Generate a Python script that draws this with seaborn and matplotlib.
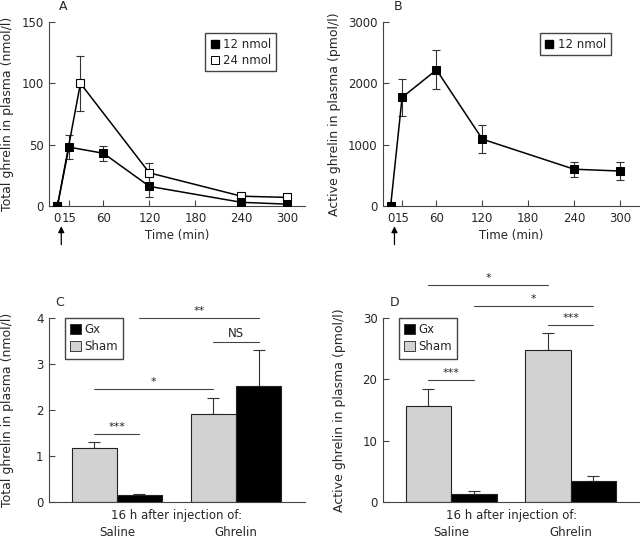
import numpy as np
import pandas as pd
import matplotlib
matplotlib.use("Agg")
import matplotlib.pyplot as plt
import seaborn as sns
from matplotlib.lines import Line2D
from matplotlib.patches import Patch

# Panel A: total ghrelin time course
time_a12 = [0, 15, 60, 120, 240, 300]
total_12 = [0, 48, 43, 16, 3, 1.5]
total_12_err = [0, 9.5, 6, 8.5, 1.5, 1]
time_a24 = [0, 30, 120, 240, 300]
total_24 = [0, 100, 27, 8, 7]
total_24_err = [0, 22.5, 8, 1.2, 1]

# Panel B: active ghrelin time course
time_b = [0, 15, 60, 120, 240, 300]
active_12 = [0, 1770, 2220, 1090, 600, 570]
active_12_err = [0, 300, 320, 230, 120, 145]

time_ticks = [0, 15, 60, 120, 180, 240, 300]

# Panels C/D: 16 h after injection
treatments = ["Saline", "Ghrelin"]
total_sham = [1.17, 1.91]
total_sham_err = [0.13, 0.36]
total_gx = [0.16, 2.53]
total_gx_err = [0.02, 0.78]
active_sham = [15.66, 24.8]
active_sham_err = [2.75, 2.8]
active_gx = [1.3, 3.5]
active_gx_err = [0.5, 0.7]

# significance brackets: (from bar, to bar, height, label)
sig_c = [(("Saline", "Sham"), ("Saline", "Gx"), 1.48, "***"),
         (("Saline", "Sham"), ("Ghrelin", "Sham"), 2.45, "*"),
         (("Ghrelin", "Sham"), ("Ghrelin", "Gx"), 3.48, "NS"),
         (("Saline", "Gx"), ("Ghrelin", "Gx"), 4.0, "**")]
sig_d = [(("Saline", "Sham"), ("Saline", "Gx"), 19.9, "***"),
         (("Saline", "Sham"), ("Ghrelin", "Sham"), 35.3, "*"),
         (("Saline", "Gx"), ("Ghrelin", "Gx"), 32.0, "*"),
         (("Ghrelin", "Sham"), ("Ghrelin", "Gx"), 28.9, "***")]

sns.set_style("ticks")
plt.rcParams['font.family'] = ['DejaVu Sans']
plt.rcParams['font.size'] = 8.5
plt.rcParams['axes.edgecolor'] = '#444444'
plt.rcParams['axes.linewidth'] = 0.8

GRAY = '#d2d2d2'
W, H = 640, 539
fig = plt.figure(figsize=(W / 100, H / 100), dpi=100)


def px_axes(left, right, top, bottom):
    return fig.add_axes([left / W, 1 - bottom / H, (right - left) / W, (bottom - top) / H])


def style_axes(ax):
    sns.despine(ax=ax)
    ax.tick_params(direction='in', length=4, width=0.8, color='#444444', labelsize=8.5, pad=4)


axA = px_axes(49, 305, 22, 206)
axB = px_axes(383, 639, 22, 206)
axC = px_axes(49, 305, 318, 502)
axD = px_axes(383, 640, 318, 502)

# ---- A ----
axA.errorbar(time_a12, total_12, yerr=total_12_err, fmt='none', ecolor='#333333',
             elinewidth=0.8, capsize=3, capthick=0.8, zorder=2)
axA.errorbar(time_a24, total_24, yerr=total_24_err, fmt='none', ecolor='#333333',
             elinewidth=0.8, capsize=3, capthick=0.8, zorder=2)
sns.lineplot(x=time_a24, y=total_24, ax=axA, color='black', lw=1.1, marker='s', ms=6,
             mfc='white', mec='black', mew=0.8, zorder=3)
sns.lineplot(x=time_a12, y=total_12, ax=axA, color='black', lw=1.1, marker='s', ms=6,
             mfc='black', mec='black', zorder=4)
axA.set_xlim(-11, 323)
axA.set_ylim(0, 150)
axA.set_yticks([0, 50, 100, 150])
axA.set_ylabel("Total ghrelin in plasma (nmol/l)", fontsize=9)
axA.yaxis.set_label_coords(-0.135, 0.5)
leg_a = [Line2D([], [], ls='none', marker='s', ms=6, mfc='black', mec='black'),
         Line2D([], [], ls='none', marker='s', ms=6, mfc='white', mec='black', mew=0.7)]
axA.legend(leg_a, ["12 nmol", "24 nmol"], loc='upper left', bbox_to_anchor=(0.61, 0.94),
           fancybox=False, edgecolor='#444444', framealpha=1, handlelength=0.8,
           handletextpad=0.3, borderpad=0.4, fontsize=8.5, labelspacing=0.25,
           borderaxespad=0)

# ---- B ----
axB.errorbar(time_b, active_12, yerr=active_12_err, fmt='none', ecolor='#333333',
             elinewidth=0.8, capsize=3, capthick=0.8, zorder=2)
sns.lineplot(x=time_b, y=active_12, ax=axB, color='black', lw=1.1, marker='s', ms=6,
             mfc='black', mec='black', zorder=4)
axB.set_xlim(-10, 325)
axB.set_ylim(0, 3000)
axB.set_yticks([0, 1000, 2000, 3000])
axB.set_ylabel("Active ghrelin in plasma (pmol/l)", fontsize=9)
axB.yaxis.set_label_coords(-0.165, 0.5)
axB.legend([leg_a[0]], ["12 nmol"], loc='upper left', bbox_to_anchor=(0.613, 0.94),
           fancybox=False, edgecolor='#444444', framealpha=1, handlelength=0.8,
           handletextpad=0.3, borderpad=0.4, fontsize=8.5, borderaxespad=0)

for ax in (axA, axB):
    style_axes(ax)
    ax.set_xticks(time_ticks)
    ax.set_xlabel("Time (min)")
    ax.xaxis.set_label_coords(0.5, -0.125)
    ax.annotate("", xy=(5, -0.11), xytext=(5, -0.21),
                xycoords=('data', 'axes fraction'), textcoords=('data', 'axes fraction'),
                arrowprops=dict(arrowstyle='-|>', color='black', lw=0.9,
                                mutation_scale=9, shrinkA=0, shrinkB=0),
                annotation_clip=False)


# ---- C / D ----
def bar_panel(ax, sham, sham_err, gx, gx_err, sigs, ylim, yticks, ylabel, label_x):
    df = pd.DataFrame({
        "treatment": treatments * 2,
        "group": ["Sham"] * 2 + ["Gx"] * 2,
        "value": sham + gx,
    })
    sns.barplot(data=df, x="treatment", y="value", hue="group", hue_order=["Sham", "Gx"],
                palette={"Sham": GRAY, "Gx": "black"}, edgecolor='#222222', linewidth=0.8,
                width=0.76, errorbar=None, legend=False, ax=ax, zorder=2)
    off = {"Sham": -0.19, "Gx": 0.19}
    xs_sham = [i + off["Sham"] for i in range(len(treatments))]
    xs_gx = [i + off["Gx"] for i in range(len(treatments))]
    ax.errorbar(xs_sham, sham, yerr=[[0] * 2, sham_err], fmt='none', ecolor='#333333',
                elinewidth=0.8, capsize=4, capthick=0.8, zorder=1)
    ax.errorbar(xs_gx, gx, yerr=[[0] * 2, gx_err], fmt='none', ecolor='#333333',
                elinewidth=0.8, capsize=4, capthick=0.8, zorder=1)
    step = ylim[1] / 184 * 2
    for (t1, g1), (t2, g2), h, lab in sigs:
        xa = treatments.index(t1) + off[g1]
        xb = treatments.index(t2) + off[g2]
        ax.plot([xa, xb], [h, h], color='#444444', lw=0.8, clip_on=False)
        ax.text((xa + xb) / 2, h + step, lab, ha='center', va='bottom',
                fontsize=8 if lab != "NS" else 8.5, clip_on=False)
    ax.set_xlim(-0.57, 1.58)
    ax.set_ylim(*ylim)
    ax.set_yticks(yticks)
    ax.set_xlabel("")
    ax.set_ylabel(ylabel, fontsize=9)
    ax.yaxis.set_label_coords(label_x, 0.5)
    style_axes(ax)
    ax.tick_params(axis='x', length=0, pad=17, labelsize=8.5)
    ax.text(0.5, -14 / 184, "16 h after injection of:", transform=ax.transAxes,
            ha='center', va='center', fontsize=8.5)
    handles = [Patch(facecolor='black', edgecolor='#222222', lw=0.6),
               Patch(facecolor=GRAY, edgecolor='#222222', lw=0.6)]
    ax.legend(handles, ["Gx", "Sham"], loc='upper left', bbox_to_anchor=(0.062, 1.0),
              fancybox=False, edgecolor='#444444', framealpha=1, handlelength=0.9,
              handleheight=0.9, handletextpad=0.3, borderpad=0.45, fontsize=8.5,
              labelspacing=0.35, borderaxespad=0)


bar_panel(axC, total_sham, total_sham_err, total_gx, total_gx_err, sig_c,
          (0, 4), [0, 1, 2, 3, 4], "Total ghrelin in plasma (nmol/l)", -0.135)
bar_panel(axD, active_sham, active_sham_err, active_gx, active_gx_err, sig_d,
          (0, 30), [0, 10, 20, 30], "Active ghrelin in plasma (pmol/l)", -0.145)

# panel letters
for lab, x, y in [("A", 63, 7), ("B", 398, 7), ("C", 60, 303), ("D", 395, 303)]:
    fig.text(x / W, 1 - y / H, lab, ha='center', va='center', fontsize=9)

fig.savefig("out.png", dpi=100)
